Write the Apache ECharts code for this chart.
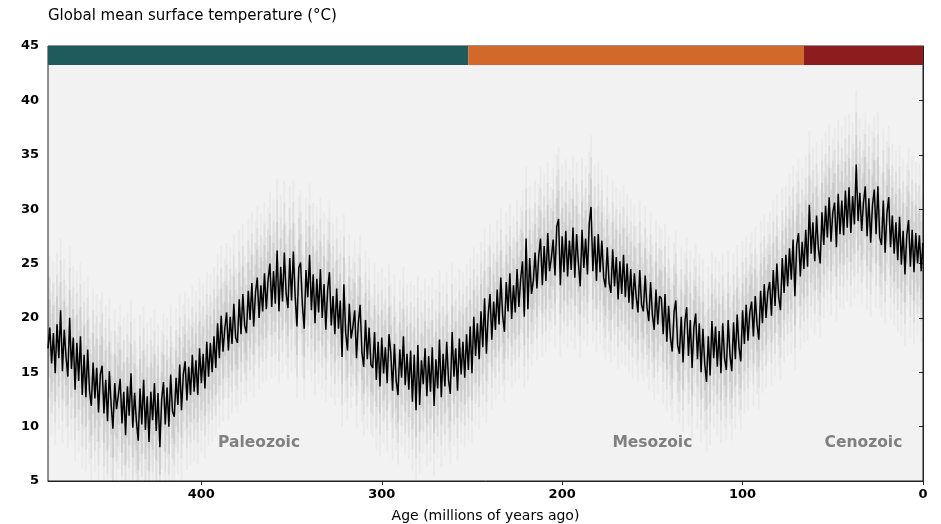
<!DOCTYPE html>
<html>
<head>
<meta charset="utf-8">
<title>Global mean surface temperature</title>
<script src="https://cdn.jsdelivr.net/npm/echarts/dist/echarts.min.js"></script>
<style>
  html, body { margin: 0; padding: 0; background: #ffffff; }
  #chart { width: 941px; height: 524px; }
</style>
</head>
<body>
<div id="chart"></div>
<script>
// Sample grid: one estimate per million years, from 485 Ma to the present
const AGE_START = 485;
const ages = [];
for (let a = AGE_START; a >= 0; a--) ages.push(a);

// Global mean surface temperature (°C), one value per age above
const temps = [
  17.2, 19.1, 15.8, 18.6, 14.9, 19.4, 16.3, 20.7, 15.1, 18.9,
  16.4, 14.6, 20.0, 15.3, 18.2, 13.4, 17.7, 14.2, 18.3, 12.9,
  16.6, 12.7, 17.1, 13.3, 11.9, 15.9, 12.6, 15.4, 11.3, 14.8,
  15.6, 11.2, 14.3, 10.5, 15.1, 12.0, 9.8, 14.0, 11.6, 12.9,
  14.4, 10.3, 13.2, 9.2, 13.7, 11.0, 14.9, 9.9, 13.1, 10.5,
  8.7, 13.5, 10.2, 14.3, 9.7, 12.8, 8.6, 13.2, 10.6, 14.0,
  9.6, 13.1, 8.1, 12.5, 14.1, 10.2, 13.6, 10.0, 14.8, 11.4,
  10.9, 14.5, 12.0, 15.7, 11.5, 14.8, 16.0, 12.4, 15.5, 12.9,
  16.6, 13.2, 16.1, 12.9, 17.2, 14.0, 16.7, 13.5, 17.8, 14.6,
  17.7, 15.0, 18.3, 15.4, 19.5, 16.3, 20.2, 16.9, 19.0, 20.5,
  17.0, 20.1, 17.6, 21.3, 18.2, 17.7, 21.7, 18.5, 22.2, 19.3,
  18.6, 22.5, 19.8, 23.2, 19.2, 22.3, 23.7, 20.0, 23.0, 20.6,
  24.1, 20.8, 23.5, 25.0, 21.0, 24.3, 21.3, 26.2, 20.6, 24.7,
  21.5, 26.0, 22.2, 20.9, 25.5, 21.6, 26.1, 22.0, 19.2, 24.6,
  25.1, 21.2, 19.0, 24.4, 21.9, 25.8, 20.7, 24.0, 19.5, 23.6,
  20.5, 24.5, 20.0, 23.1, 18.9, 22.6, 24.2, 19.3, 22.0, 18.5,
  22.7, 19.0, 21.6, 16.4, 23.1, 18.6, 17.0, 21.3, 18.1, 19.2,
  20.7, 16.3, 19.5, 21.2, 16.8, 15.5, 19.8, 16.2, 19.1, 15.7,
  15.4, 18.7, 14.3, 17.8, 13.7, 18.2, 14.9, 17.3, 14.0, 18.5,
  16.8, 13.3, 17.6, 14.2, 12.9, 17.1, 14.5, 18.3, 13.8, 16.7,
  13.4, 17.0, 12.3, 16.6, 11.5, 17.5, 12.0, 16.1, 13.9, 17.2,
  12.8, 16.5, 13.2, 17.3, 11.9, 16.2, 13.5, 18.0, 12.7, 16.7,
  13.7, 17.8, 14.3, 13.0, 18.7, 14.6, 17.2, 13.3, 18.1, 14.8,
  17.8, 14.5, 18.5, 15.2, 19.2, 14.9, 20.1, 16.5, 19.5, 16.2,
  20.6, 17.3, 21.8, 16.7, 20.3, 22.2, 18.0, 21.5, 18.9, 22.6,
  19.4, 23.7, 20.2, 18.7, 23.3, 20.6, 24.1, 19.9, 23.0, 20.5,
  24.5, 21.0, 23.6, 25.2, 20.1, 27.3, 20.8, 25.5, 22.2, 23.4,
  26.0, 22.7, 25.7, 27.3, 23.0, 26.6, 23.4, 27.8, 24.3, 25.5,
  27.2, 23.9, 28.4, 29.1, 23.0, 27.5, 24.2, 28.0, 23.8, 27.1,
  24.4, 28.3, 23.7, 27.7, 25.0, 22.9, 28.1, 24.6, 27.3, 24.0,
  28.7, 30.2, 24.3, 27.5, 23.4, 27.7, 24.2, 27.1, 23.7, 22.8,
  26.5, 23.2, 22.3, 26.3, 22.9, 25.6, 21.7, 25.2, 22.2, 25.8,
  21.9, 25.0, 21.4, 24.5, 20.8, 24.1, 22.0, 20.5, 24.4, 21.2,
  20.6, 23.9, 21.0, 19.7, 23.3, 20.3, 18.9, 22.6, 19.4, 22.0,
  21.8, 18.5, 22.2, 17.8, 21.1, 18.2, 16.9, 20.5, 21.6, 17.5,
  16.7, 20.1, 15.9, 19.6, 21.0, 16.5, 19.8, 15.4, 19.1, 20.4,
  16.2, 19.5, 15.0, 19.0, 15.8, 14.1, 18.3, 14.7, 19.7, 16.3,
  19.2, 15.5, 18.8, 14.9, 19.5, 16.3, 15.2, 19.8, 16.6, 15.1,
  19.6, 16.2, 20.3, 17.3, 16.0, 20.7, 17.6, 21.2, 17.9, 20.5,
  21.5, 18.3, 22.0, 19.4, 18.0, 22.5, 19.5, 23.1, 20.0, 22.4,
  23.3, 20.2, 24.4, 21.1, 25.0, 21.9, 20.7, 25.5, 22.3, 25.8,
  22.9, 26.4, 23.5, 27.2, 22.0, 26.7, 27.8, 23.8, 27.0, 24.5,
  28.1, 24.7, 30.4, 25.9, 28.8, 25.2, 29.4, 26.4, 25.0, 29.7,
  26.7, 30.3, 27.4, 31.1, 27.0, 29.7, 30.6, 26.5, 31.4, 27.7,
  30.8, 27.6, 31.7, 28.3, 32.0, 27.8, 31.2, 28.6, 34.1, 28.9,
  31.5, 28.0, 30.6, 32.1, 27.5, 31.0, 26.9, 30.4, 31.8, 27.7,
  32.1, 27.4, 26.7, 30.8, 26.0, 29.6, 31.1, 26.5, 29.4, 25.9,
  28.8, 25.3, 29.3, 24.9, 28.0, 24.0, 27.6, 29.0, 24.7, 28.1,
  24.2, 27.8, 25.0, 27.6, 24.3, 26.9
];

// Half-widths of the uncertainty ranges (°C) at a few node ages
const spreadAges  = [485, 450, 400, 350, 300, 250, 200, 150, 100, 50, 0];
const spreadWide  = [6.6, 6.8, 6.4, 6.6, 6.4, 6.4, 6.6, 6.4, 6.4, 6.8, 6.6];
const spreadOuter = [4.6, 4.8, 4.4, 4.6, 4.4, 4.4, 4.6, 4.4, 4.4, 4.8, 4.6];
const spreadInner = [2.6, 2.7, 2.5, 2.6, 2.5, 2.5, 2.6, 2.5, 2.5, 2.7, 2.6];

// Geologic eras (Ma)
const eraNames  = ['Paleozoic', 'Mesozoic', 'Cenozoic'];
const eraStart  = [485, 252, 66];
const eraEnd    = [252, 66, 0];
const eraLabelAge = [368, 150, 33];
const eraColors = ['#1f5a5c', '#d2692a', '#8d1c1f'];

// Axis ticks
const xTicks = [0, 100, 200, 300, 400];
const yMin = 5, yMax = 45, yStep = 5;
const eraBarBottom = 43.25;
const eraLabelTemp = 8.5;

const FONT = '"DejaVu Sans", "Liberation Sans", sans-serif';

function nearestSpread(age, arr) {
  let best = 0, bestD = Infinity;
  for (let i = 0; i < spreadAges.length; i++) {
    const d = Math.abs(spreadAges[i] - age);
    if (d < bestD) { bestD = d; best = i; }
  }
  return arr[best];
}

const linePoints = ages.map((a, i) => [a, temps[i]]);

// Each sample's uncertainty range is drawn as a faint vertical streak
function streakSeries(spreadArr, alpha, width) {
  return {
    type: 'custom',
    clip: true,
    silent: true,
    z: 1,
    data: linePoints,
    renderItem: function (params, api) {
      const age = api.value(0), t = api.value(1);
      const s = nearestSpread(age, spreadArr);
      const p1 = api.coord([age, t + s]);
      const p2 = api.coord([age, t - s]);
      return {
        type: 'line',
        shape: { x1: p1[0], y1: p1[1], x2: p2[0], y2: p2[1] },
        style: { stroke: 'rgba(0,0,0,' + alpha + ')', lineWidth: width }
      };
    }
  };
}

const chart = echarts.init(document.getElementById('chart'), null, { renderer: 'canvas' });

chart.setOption({
  animation: false,
  backgroundColor: '#ffffff',
  title: {
    text: 'Global mean surface temperature (°C)',
    left: 43,
    top: 4,
    textStyle: { fontFamily: FONT, fontSize: 15, fontWeight: 'normal', color: '#000' }
  },
  grid: {
    left: 48, right: 18, top: 46, bottom: 43,
    outerBoundsMode: 'none',
    containLabel: false,
    show: true,
    backgroundColor: '#f2f2f2',
    borderColor: '#222',
    borderWidth: 1
  },
  xAxis: {
    type: 'value',
    inverse: true,
    min: 0,
    max: AGE_START,
    interval: 100,
    name: 'Age (millions of years ago)',
    nameLocation: 'middle',
    nameGap: 28,
    nameTextStyle: { fontFamily: FONT, fontSize: 14, color: '#000' },
    axisLine: { show: true, lineStyle: { color: '#222', width: 1 } },
    axisTick: { show: true, length: 4, lineStyle: { color: '#222' }, customValues: xTicks },
    axisLabel: {
      customValues: xTicks,
      margin: 7,
      fontFamily: FONT, fontSize: 13, fontWeight: 'bold', color: '#000'
    },
    splitLine: { show: false }
  },
  yAxis: {
    type: 'value',
    min: yMin,
    max: yMax,
    interval: yStep,
    axisLine: { show: true, lineStyle: { color: '#222', width: 1 } },
    axisTick: { show: true, length: 4, lineStyle: { color: '#222' } },
    axisLabel: { margin: 9, fontFamily: FONT, fontSize: 13, fontWeight: 'bold', color: '#000' },
    splitLine: { show: false }
  },
  series: [
    streakSeries(spreadWide, 0.03, 2),
    streakSeries(spreadOuter, 0.05, 2),
    streakSeries(spreadInner, 0.07, 2),
    {
      type: 'line',
      data: linePoints,
      showSymbol: false,
      z: 3,
      lineStyle: { color: '#000', width: 1.5 },
      silent: true
    },
    {
      // Era colour bar along the top of the plot
      type: 'custom',
      z: 5,
      silent: true,
      data: eraNames.map((n, i) => [eraStart[i], eraEnd[i], i]),
      renderItem: function (params, api) {
        const p1 = api.coord([api.value(0), yMax]);
        const p2 = api.coord([api.value(1), eraBarBottom]);
        return {
          type: 'rect',
          shape: { x: p1[0], y: p1[1], width: p2[0] - p1[0], height: p2[1] - p1[1] },
          style: { fill: eraColors[api.value(2)] }
        };
      }
    },
    {
      // Era names near the bottom of the plot
      type: 'custom',
      z: 6,
      silent: true,
      data: eraNames.map((n, i) => [eraLabelAge[i], eraLabelTemp, i]),
      renderItem: function (params, api) {
        const p = api.coord([api.value(0), api.value(1)]);
        return {
          type: 'text',
          x: p[0], y: p[1],
          style: {
            text: eraNames[api.value(2)],
            align: 'center', verticalAlign: 'middle',
            fontFamily: FONT, fontSize: 15.5, fontWeight: 'bold',
            fill: '#808080'
          }
        };
      }
    }
  ]
});
</script>
</body>
</html>
